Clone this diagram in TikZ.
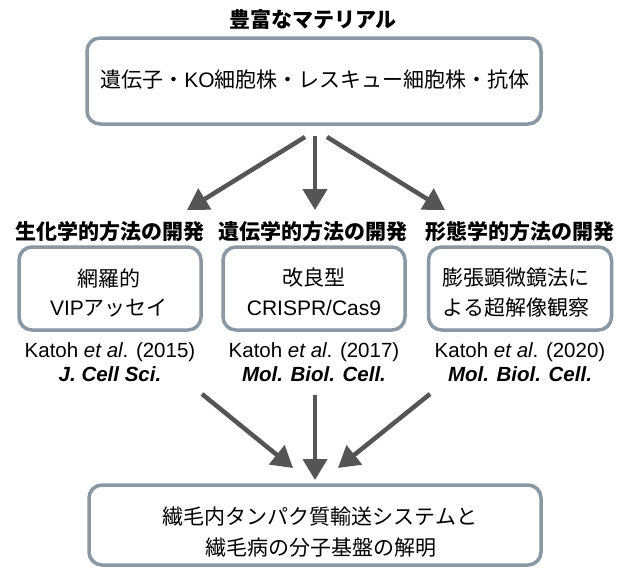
\documentclass[tikz,border=0pt]{standalone}
\usepackage{fontspec}
\setmainfont{Liberation Sans}
\newfontfamily\jp{Noto Sans CJK JP}
\usetikzlibrary{arrows.meta}
\definecolor{boxc}{RGB}{138,152,163}
\definecolor{arrc}{RGB}{85,85,85}
\begin{document}
\begin{tikzpicture}[x=1pt,y=-1pt,
 box/.style={draw=boxc,line width=3.5pt,rounded corners=13pt,fill=white,inner sep=0pt},
 txt/.style={font=\fontsize{21}{31}\selectfont,align=center,inner sep=0pt},
 hdr/.style={font=\fontsize{21}{25}\selectfont\bfseries\jp,inner sep=0pt},
 refl/.style={font=\fontsize{20.5}{24}\selectfont,inner sep=0pt},
 arr/.style={draw=arrc,line width=4.5pt,-{Triangle[width=24pt,length=21pt]}}]
\useasboundingbox (0,0) rectangle (622,570);
\fill[white] (0,0) rectangle (622,570);

% title and top box
\node[hdr] (title) at (313,19) {豊富なマテリアル};
\node[box,minimum width=454pt,minimum height=86pt] (top) at (314,81) {};
\node[txt] (toptxt) at (315,80) {{\jp 遺伝子・}KO{\jp 細胞株・レスキュー細胞株・抗体}};

% headers
\node[hdr] (h1) at (110,232) {生化学的方法の開発};
\node[hdr] (h2) at (313,232) {遺伝学的方法の開発};
\node[hdr] (h3) at (520,232) {形態学的方法の開発};

% method boxes
\node[box,minimum width=182pt,minimum height=83pt] (b1) at (110,288.5) {};
\node[box,minimum width=182pt,minimum height=83pt] (b2) at (314,288.5) {};
\node[box,minimum width=183pt,minimum height=83pt] (b3) at (520,288.5) {};
\node[txt] (t1a) at (109,278) {\jp 網羅的};
\node[txt] (t1b) at (109,308) {VIP{\jp アッセイ}};
\node[txt] (t2a) at (314,278) {\jp 改良型};
\node[txt] (t2b) at (314,308) {CRISPR/Cas9};
\node[txt] (t3a) at (516,278) {\jp 膨張顕微鏡法に};
\node[txt] (t3b) at (516,308) {\jp よる超解像観察};

% references
\node[refl] (r1) at (110,352) {Katoh \textit{et al}. (2015)};
\node[refl] (r2) at (314,352) {Katoh \textit{et al}. (2017)};
\node[refl] (r3) at (520,352) {Katoh \textit{et al}. (2020)};
\node[refl] (j1) at (110,374) {\textbf{\textit{J. Cell Sci.}}};
\node[refl] (j2) at (314,374) {\textbf{\textit{Mol. Biol. Cell.}}};
\node[refl] (j3) at (520,374) {\textbf{\textit{Mol. Biol. Cell.}}};

% bottom box
\node[box,minimum width=452pt,minimum height=80pt] (bot) at (315,525) {};
\node[txt] (bt1) at (320,517) {\jp 繊毛内タンパク質輸送システムと};
\node[txt] (bt2) at (321,548) {\jp 繊毛病の分子基盤の解明};

% arrow end points
\coordinate (s1) at (305,137);
\coordinate (s2) at (315,136);
\coordinate (s3) at (327,137);
\coordinate (e1) at (187,210);
\coordinate (e2) at (315,210);
\coordinate (e3) at (445,210);
\coordinate (u1) at (202,394);
\coordinate (u2) at (315,395);
\coordinate (u3) at (430,394);
\coordinate (v1) at (293,468);
\coordinate (v2) at (315,480);
\coordinate (v3) at (338,468);

\draw[arr] (s1) -- (e1);
\draw[arr] (s2) -- (e2);
\draw[arr] (s3) -- (e3);
\draw[arr] (u1) -- (v1);
\draw[arr] (u2) -- (v2);
\draw[arr] (u3) -- (v3);
\end{tikzpicture}
\end{document}
